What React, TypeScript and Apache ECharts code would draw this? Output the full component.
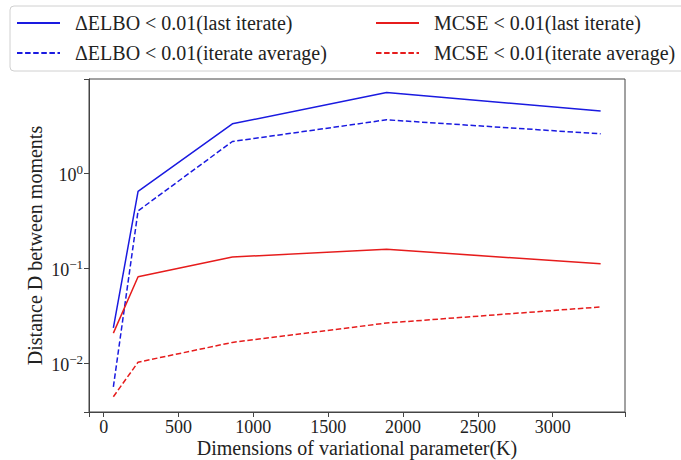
import React, { useEffect, useRef } from "react";
import * as echarts from "echarts";

const K = [65, 230, 860, 1890, 3320];
const elboLast = [0.0237, 0.645, 3.31, 7.05, 4.51];
const elboAvg = [0.0057, 0.403, 2.16, 3.65, 2.6];
const mcseLast = [0.0209, 0.0817, 0.132, 0.159, 0.112];
const mcseAvg = [0.00449, 0.01035, 0.0167, 0.0267, 0.0394];

const seriesNames = [
  "ΔELBO < 0.01(last iterate)",
  "ΔELBO < 0.01(iterate average)",
  "MCSE < 0.01(last iterate)",
  "MCSE < 0.01(iterate average)",
];

const BLUE = "#1a1ae0";
const RED = "#e61c1c";
const FONT = "Liberation Serif";
const DASH = [5.5, 2.6];

function pairs(vals: number[]) {
  return K.map((k, i) => [k, vals[i]]);
}

export default function App() {
  const ref = useRef<HTMLDivElement>(null);
  useEffect(() => {
    if (!ref.current) return;
    const chart = echarts.init(ref.current, null, { renderer: "svg" });
    const mkSeries = (name: string, data: number[], color: string, dashed: boolean) => ({
      name,
      type: "line",
      data: pairs(data),
      showSymbol: false,
      symbol: "none",
      color,
      lineStyle: { color, width: 1.5, type: dashed ? DASH : "solid" },
    });
    const legendCommon = {
      orient: "vertical",
      top: 6,
      itemWidth: 43,
      itemHeight: 14,
      itemGap: 6,
      itemStyle: { opacity: 0 },
      textStyle: {
        fontFamily: FONT,
        fontSize: 20,
        lineHeight: 24,
        color: "#222",
        padding: [0, 0, 0, 10],
      },
    };
    chart.setOption({
      animation: false,
      backgroundColor: "#fff",
      graphic: [
        {
          type: "rect",
          shape: { x: 10, y: 6, width: 690, height: 65, r: 4 },
          style: { fill: "none", stroke: "#d0d0d0", lineWidth: 1 },
          z: 0,
        },
      ],
      legend: [
        { ...legendCommon, left: 11, data: [seriesNames[0], seriesNames[1]] },
        { ...legendCommon, left: 370, data: [seriesNames[2], seriesNames[3]] },
      ],
      grid: {
        left: 89,
        right: 56,
        top: 79,
        bottom: 48,
        outerBoundsMode: "none",
        containLabel: false,
        show: true,
        borderColor: "#444",
        borderWidth: 1,
        backgroundColor: "transparent",
      },
      xAxis: {
        type: "value",
        min: -97.75,
        max: 3482.75,
        splitNumber: 7,
        splitLine: { show: false },
        axisLine: { show: true, onZero: false, lineStyle: { color: "#444" } },
        axisTick: { show: true, length: 5, inside: false, lineStyle: { color: "#444" } },
        axisLabel: {
          fontFamily: FONT,
          fontSize: 18,
          color: "#222",
          margin: 6,
          formatter: (v: number) => (Math.abs(v % 500) < 1e-6 ? String(v) : ""),
        },
        name: "Dimensions of variational parameter(K)",
        nameLocation: "middle",
        nameGap: 26,
        nameMoveOverlap: false,
        nameTextStyle: { fontFamily: FONT, fontSize: 20, color: "#222" },
      },
      yAxis: {
        type: "log",
        logBase: 10,
        min: 0.0031,
        max: 9.8,
        splitLine: { show: false },
        axisLine: { show: true, onZero: false, lineStyle: { color: "#444" } },
        axisTick: { show: true, length: 5, inside: false, lineStyle: { color: "#444" } },
        axisLabel: {
          margin: 6,
          color: "#222",
          formatter: (v: number) => {
            const e = Math.log10(v);
            const r = Math.round(e);
            if (Math.abs(e - r) > 1e-6) return "";
            const ex = r < 0 ? "−" + Math.abs(r) : String(r);
            return "{b|10}{s|" + ex + "}";
          },
          rich: {
            b: { fontFamily: FONT, fontSize: 18, color: "#222", verticalAlign: "bottom" },
            s: {
              fontFamily: FONT,
              fontSize: 13,
              color: "#222",
              verticalAlign: "bottom",
              padding: [0, 0, 8, 0],
            },
          },
        },
        name: "Distance D between moments",
        nameLocation: "middle",
        nameRotate: 90,
        nameGap: 44,
        nameMoveOverlap: false,
        nameTextStyle: { fontFamily: FONT, fontSize: 20, color: "#222" },
      },
      series: [
        mkSeries(seriesNames[0], elboLast, BLUE, false),
        mkSeries(seriesNames[1], elboAvg, BLUE, true),
        mkSeries(seriesNames[2], mcseLast, RED, false),
        mkSeries(seriesNames[3], mcseAvg, RED, true),
      ],
    });
    return () => chart.dispose();
  }, []);
  return <div ref={ref} style={{ width: 681, height: 460, position: "fixed", left: 0, top: 0 }} />;
}
